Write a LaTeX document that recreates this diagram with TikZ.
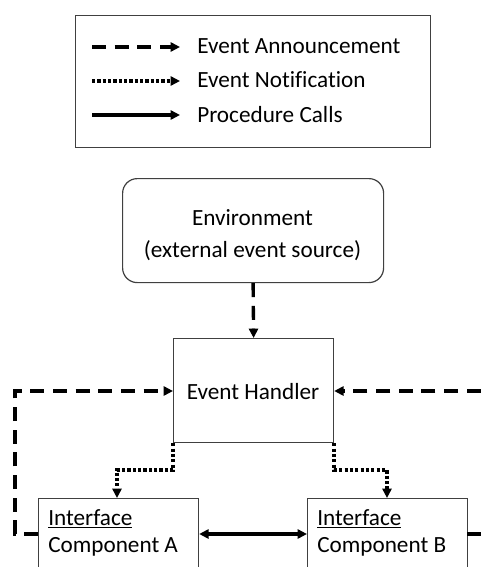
\documentclass[tikz,border=0pt]{standalone}
\usepackage{fontspec}
\setmainfont{Carlito}[Ligatures=NoCommon]
\usetikzlibrary{arrows.meta}
\begin{document}
\begin{tikzpicture}[x=0.75pt,y=-0.75pt,
  font=\fontsize{17.4}{24}\selectfont,
  box/.style={draw=black!75, line width=0.9pt, inner sep=0pt, anchor=north west},
  label/.style={inner sep=0pt, anchor=base west},
  tip/.style={-{Triangle[length=7pt,width=6.8pt]}},
  announce/.style={line width=2.5pt, dash pattern=on 10.5pt off 6.5pt, tip},
  notify/.style={line width=2.6pt, dash pattern=on 2.4pt off 1.6pt, tip},
  call/.style={line width=2.5pt}]
\clip (0,0) rectangle (487,567);
\fill[white] (0,0) rectangle (487,567);

% legend
\node[box, minimum width=266.25pt, minimum height=99pt] (legend) at (75,15) {};
\coordinate (l1s) at (92,47);  \coordinate (l1e) at (180,47);
\coordinate (l2s) at (92,81);  \coordinate (l2e) at (180,81);
\coordinate (l3s) at (92,115); \coordinate (l3e) at (180,115);
\draw[announce] (l1s) -- (l1e);
\draw[notify]   (l2s) -- (l2e);
\draw[call,tip] (l3s) -- (l3e);
\node[label] (t1) at (197,54)  {Event Announcement};
\node[label] (t2) at (197,88)  {Event Notification};
\node[label] (t3) at (197,122) {Procedure Calls};

% boxes
\node[box, rounded corners=11pt, minimum width=195.75pt, minimum height=78pt] (env) at (122,178) {};
\node[inner sep=0pt, align=center, font=\fontsize{17.4}{24.5}\selectfont]
  (envtext) at (252.5,235) {Environment\\(external event source)};
\node[box, minimum width=120pt, minimum height=78pt] (eh) at (173,338) {};
\node[inner sep=0pt] (ehtext) at (253,392) {Event Handler};
\node[box, minimum width=120pt, minimum height=80pt] (ca) at (38,498) {};
\node[box, minimum width=120pt, minimum height=80pt] (cb) at (307,498) {};
\node[label] (ia) at (48,525)  {\underline{Interface}};
\node[label] (na) at (48,552)  {Component A};
\node[label] (ib) at (317,525) {\underline{Interface}};
\node[label] (nb) at (317,552) {Component B};

% event announcements
\draw[announce] (env.south) -- (eh.north);
\coordinate (la) at (38,534);
\coordinate (lb) at (467,534);
\draw[announce] (la) -- (15,534) -- (15,391) -- (eh.west |- 0,391);
\draw[announce] (lb) -- (493,534) -- (493,391) -- (eh.east |- 0,391);

% event notifications
\draw[notify] (eh.south west) -- ++(0,27) -| (117,498);
\draw[notify] (eh.south east) -- ++(0,27) -| (387,498);

% procedure calls
\draw[call, {Triangle[length=7pt,width=6.8pt]}-{Triangle[length=7pt,width=6.8pt]}]
  (ca.east |- la) -- (cb.west |- lb);
\end{tikzpicture}
\end{document}
